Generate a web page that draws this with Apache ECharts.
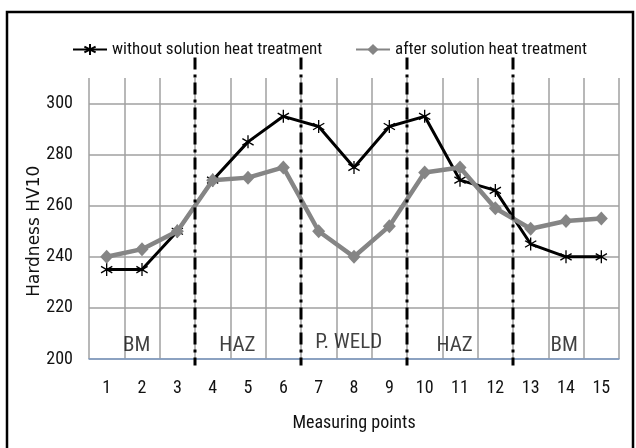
<!DOCTYPE html>
<html>
<head>
<meta charset="utf-8">
<script src="https://cdn.jsdelivr.net/npm/echarts@6/dist/echarts.min.js"></script>
<style>html,body{margin:0;padding:0;background:#fff}#c{width:636px;height:448px}</style>
</head>
<body>
<div id="c"></div>
<script>
const categories = ['1','2','3','4','5','6','7','8','9','10','11','12','13','14','15'];
const withoutTreatment = [235,235,250,270,285,295,291,275,291,295,270,266,245,240,240];
const afterTreatment = [240,243,250,270,271,275,250,240,252,273,275,259,251,254,255];
const seriesNames = ['without solution heat treatment','after solution heat treatment'];
const yTitle = 'Hardness HV10';
const zoneBoundaries = [3.5,6.5,9.5,12.5];
const zoneLabels = ['BM','HAZ','P. WELD','HAZ','BM'];
const zoneLabelX = [1.85,4.7,7.85,10.85,13.95];
const zoneLabelY = [205,205,206.5,205,205];

const FONT = '"Roboto Condensed","DejaVu Sans Condensed",sans-serif';
const TXT = '#111';
const chart = echarts.init(document.getElementById('c'), null, {renderer:'canvas'});
const star = 'path://M10,0L10,20M1.34,5L18.66,15M18.66,5L1.34,15';

const option = {
  animation:false,
  backgroundColor:'#fff',
  textStyle:{fontFamily:FONT},
  legend:[
    {data:[seriesNames[0]], left:67, top:36, itemWidth:34, itemHeight:14,
     textStyle:{fontFamily:FONT, fontSize:17, color:TXT}, itemGap:2},
    {data:[seriesNames[1]], left:350, top:36, itemWidth:34, itemHeight:14,
     textStyle:{fontFamily:FONT, fontSize:17, color:TXT}, itemGap:2}
  ],
  grid:{left:89, right:17, top:78, bottom:89, containLabel:false},
  xAxis:[
    {type:'category', data:categories, boundaryGap:true,
     name:'Measuring points', nameLocation:'middle', nameGap:55,
     nameTextStyle:{fontFamily:FONT, fontSize:18, color:TXT},
     axisLine:{show:true, lineStyle:{color:'#7d9bc4', width:1.5}},
     axisTick:{show:false},
     axisLabel:{fontFamily:FONT, fontSize:18, color:TXT, margin:20, interval:0},
     splitLine:{show:true, interval:0, lineStyle:{color:'#a0a0a0', width:1.5}}},
    {type:'value', min:0.5, max:15.5, show:false}
  ],
  yAxis:[{type:'value', min:200, max:310, interval:20,
    axisLine:{show:false}, axisTick:{show:false},
    axisLabel:{fontFamily:FONT, fontSize:18, color:TXT, margin:16, showMaxLabel:false,
      formatter:v => (v % 20 === 0 ? String(v) : '')},
    splitLine:{show:true, showMaxLine:false, lineStyle:{color:'#a0a0a0', width:1.5}}
  }],
  series:[
    {name:seriesNames[0], type:'line', data:withoutTreatment, xAxisIndex:0, yAxisIndex:0,
     symbol:star, symbolSize:13, symbolKeepAspect:true,
     lineStyle:{color:'#000', width:3},
     itemStyle:{color:'#000', borderColor:'#000', borderWidth:1.3}, z:3},
    {name:seriesNames[1], type:'line', data:afterTreatment, xAxisIndex:0, yAxisIndex:0,
     symbol:'diamond', symbolSize:[13,14],
     lineStyle:{color:'#858585', width:4.5},
     itemStyle:{color:'#858585'}, z:4},
    {type:'scatter', xAxisIndex:1, yAxisIndex:0, symbolSize:0, silent:true,
     data:zoneLabels.map((t,i)=>({value:[zoneLabelX[i], zoneLabelY[i]], name:t})),
     label:{show:true, position:'inside', formatter:p=>p.name, fontFamily:FONT, fontSize:21, color:TXT}, z:5}
  ]
};
chart.setOption(option);

const lines = zoneBoundaries.map(b => {
  const x = chart.convertToPixel({xAxisIndex:1}, b);
  const y1 = chart.convertToPixel({yAxisIndex:0}, 318);
  const y2 = chart.convertToPixel({yAxisIndex:0}, 197.5);
  return {type:'line', shape:{x1:x, y1:y1, x2:x, y2:y2},
    style:{stroke:'#000', lineWidth:3, lineDash:[12,5,3,5]}, z:10};
});
const gx = chart.convertToPixel({xAxisIndex:1}, 0.5);
const gy = chart.convertToPixel({yAxisIndex:0}, 250);
chart.setOption({graphic:[
  {type:'rect', shape:{x:7, y:12, width:626, height:440},
   style:{fill:'none', stroke:'#000', lineWidth:2.5}, z:20},
  {type:'text', x:gx-54, y:gy, rotation:Math.PI/2,
   style:{text:yTitle, fill:TXT, font:'17px "DejaVu Sans", sans-serif', textAlign:'center', textVerticalAlign:'middle'}, z:20}
].concat(lines)});
</script>
</body>
</html>
